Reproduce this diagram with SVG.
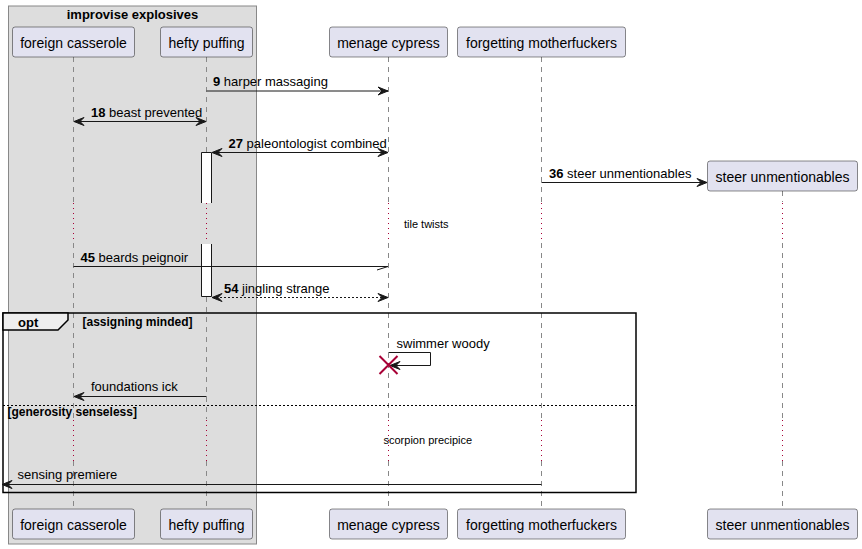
<svg xmlns="http://www.w3.org/2000/svg" width="862" height="549" viewBox="0 0 862 549">
<defs>
<style>
text{font-family:"Liberation Sans",Arial,sans-serif;fill:#000}
.pbox{fill:#E2E2F0;stroke:#181818;stroke-width:0.5}
.ptxt{font-size:14px;text-anchor:middle}
.life{stroke:#888;stroke-width:1;stroke-dasharray:5,5;fill:none}
.delay{stroke:#A80036;stroke-width:1;stroke-dasharray:1,4;fill:none}
.msg{stroke:#181818;stroke-width:1;fill:none}
.dash{stroke-dasharray:2,2}
.lbl{font-size:13px}
.small{font-size:11px}
.guard{font-size:12px;font-weight:bold}
.b{font-weight:bold}
</style>
<marker id="arr" viewBox="0 0 12 10" refX="11" refY="5" markerWidth="12" markerHeight="10" markerUnits="userSpaceOnUse" orient="auto-start-reverse">
<polygon points="1,1 11,5 1,9 5,5" fill="#181818" stroke="#181818" stroke-width="1"/>
</marker>
</defs>
<rect width="862" height="549" fill="#fff"/>

<g id="group-improvise-explosives">
<rect x="8.5" y="6" width="248" height="538" fill="#DDDDDD" stroke="#888" stroke-width="1"/>
<text x="132.5" y="19" class="lbl b" text-anchor="middle">improvise explosives</text>
</g>

<g id="lifelines">
<path class="life" d="M73.5,57V202 M73.5,243V419 M73.5,461V509"/>
<path class="delay" d="M73.5,203V243 M73.5,420V461"/>
<path class="life" d="M206.5,57V152 M206.5,297V419 M206.5,461V509"/>
<path class="delay" d="M206.5,203V243 M206.5,420V461"/>
<path class="life" d="M388.5,57V202 M388.5,243V419 M388.5,461V509"/>
<path class="delay" d="M388.5,203V243 M388.5,420V461"/>
<path class="life" d="M541.5,57V202 M541.5,243V419 M541.5,461V509"/>
<path class="delay" d="M541.5,203V243 M541.5,420V461"/>
<path class="life" d="M782.5,191V202 M782.5,243V419 M782.5,461V509"/>
<path class="delay" d="M782.5,203V243 M782.5,420V461"/>
</g>

<g id="activation">
<path d="M201.5,152.5H211.5V203H201.5Z" fill="#fff" stroke="none"/>
<path d="M201.5,244H211.5V296.5H201.5Z" fill="#fff" stroke="none"/>
<path d="M201.5,203V152.5H211.5V203 M201.5,244V296.5H211.5V244" fill="none" stroke="#181818" stroke-width="1"/>
</g>

<g id="node-foreign-casserole">
<rect class="pbox" x="12.5" y="27" width="122" height="30" rx="2.5"/>
<text class="ptxt" x="73.5" y="47.5">foreign casserole</text>
<rect class="pbox" x="12.5" y="509" width="122" height="30" rx="2.5"/>
<text class="ptxt" x="73.5" y="529.5">foreign casserole</text>
</g>
<g id="node-hefty-puffing">
<rect class="pbox" x="160.5" y="27" width="92" height="30" rx="2.5"/>
<text class="ptxt" x="206.5" y="47.5">hefty puffing</text>
<rect class="pbox" x="160.5" y="509" width="92" height="30" rx="2.5"/>
<text class="ptxt" x="206.5" y="529.5">hefty puffing</text>
</g>
<g id="node-menage-cypress">
<rect class="pbox" x="329.5" y="27" width="118" height="30" rx="2.5"/>
<text class="ptxt" x="388.5" y="47.5">menage cypress</text>
<rect class="pbox" x="329.5" y="509" width="118" height="30" rx="2.5"/>
<text class="ptxt" x="388.5" y="529.5">menage cypress</text>
</g>
<g id="node-forgetting-motherfuckers">
<rect class="pbox" x="457.5" y="27" width="168" height="30" rx="2.5"/>
<text class="ptxt" x="541.5" y="47.5">forgetting motherfuckers</text>
<rect class="pbox" x="457.5" y="509" width="168" height="30" rx="2.5"/>
<text class="ptxt" x="541.5" y="529.5">forgetting motherfuckers</text>
</g>
<g id="node-steer-unmentionables">
<rect class="pbox" x="707.5" y="161" width="150" height="30" rx="2.5"/>
<text class="ptxt" x="782.5" y="181.5">steer unmentionables</text>
<rect class="pbox" x="707.5" y="509" width="150" height="30" rx="2.5"/>
<text class="ptxt" x="782.5" y="529.5">steer unmentionables</text>
</g>

<g id="fragment-opt">
<rect x="3" y="313" width="633" height="179.5" fill="none" stroke="#000" stroke-width="1.5"/>
<polygon points="3,313 68,313 68,320 58,330 3,330" fill="#EEEEEE" stroke="#000" stroke-width="1.5"/>
<text x="18" y="326.5" class="lbl b">opt</text>
<text x="82.5" y="326" class="guard">[assigning minded]</text>
<line x1="3" y1="405.5" x2="636" y2="405.5" stroke="#000" stroke-width="1" stroke-dasharray="2,2"/>
<text x="7.5" y="416" class="guard">[generosity senseless]</text>
</g>

<g id="connectors">
<line class="msg" x1="206.5" y1="91" x2="388" y2="91" marker-end="url(#arr)"/>
<text class="lbl" x="213" y="86"><tspan class="b">9</tspan> harper massaging</text>

<line class="msg" x1="74" y1="121.5" x2="206" y2="121.5" marker-start="url(#arr)" marker-end="url(#arr)"/>
<text class="lbl" x="91" y="116.5"><tspan class="b">18</tspan> beast prevented</text>

<line class="msg" x1="212" y1="152.5" x2="388" y2="152.5" marker-start="url(#arr)" marker-end="url(#arr)"/>
<text class="lbl" x="228.5" y="147.5"><tspan class="b">27</tspan> paleontologist combined</text>

<line class="msg" x1="541.5" y1="182.5" x2="707" y2="182.5" marker-end="url(#arr)"/>
<text class="lbl" x="549" y="177.5"><tspan class="b">36</tspan> steer unmentionables</text>

<text class="small" x="404" y="227.5">tile twists</text>

<line class="msg" x1="73.5" y1="266.5" x2="388" y2="266.5"/>
<line class="msg" x1="377" y1="270" x2="388" y2="266.5"/>
<text class="lbl" x="80.5" y="261.5"><tspan class="b">45</tspan> beards peignoir</text>

<line class="msg dash" x1="212" y1="297.5" x2="388" y2="297.5" marker-start="url(#arr)" marker-end="url(#arr)"/>
<text class="lbl" x="224" y="292.5"><tspan class="b">54</tspan> jingling strange</text>

<path class="msg" d="M388.5,352.5H430.5V365.5H390" marker-end="url(#arr)"/>
<text class="lbl" x="396.5" y="347.5">swimmer woody</text>
<path d="M379.5,356L397.5,374M397.5,356L379.5,374" stroke="#A80036" stroke-width="2" fill="none"/>

<line class="msg" x1="206.5" y1="396.5" x2="74" y2="396.5" marker-end="url(#arr)"/>
<text class="lbl" x="91" y="391">foundations ick</text>

<text class="small" x="383.5" y="444">scorpion precipice</text>

<line class="msg" x1="541.5" y1="484.5" x2="2" y2="484.5" marker-end="url(#arr)"/>
<text class="lbl" x="17.5" y="479">sensing premiere</text>
</g>
</svg>
